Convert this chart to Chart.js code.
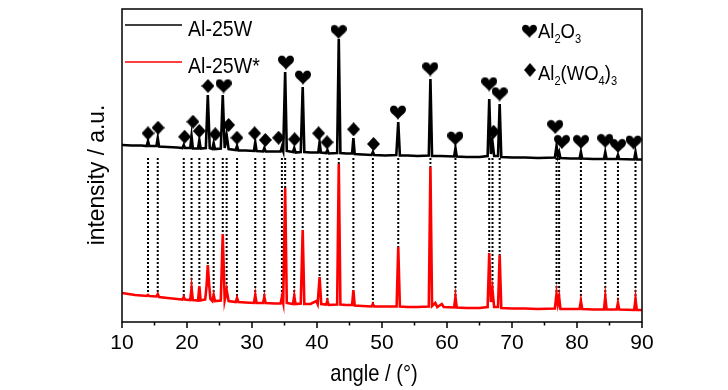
<!DOCTYPE html>
<html>
<head>
<meta charset="utf-8">
<script src="https://cdn.jsdelivr.net/npm/chart.js@4"></script>
<style>
  html, body { margin: 0; padding: 0; background: #fff; }
  #wrap { width: 728px; height: 390px; position: relative; }
</style>
</head>
<body>
<div id="wrap"><canvas id="xrd"></canvas></div>
<script>
const FONT = "'Liberation Sans', Arial, sans-serif";

const seriesNames = ['Al-25W', 'Al-25W*'];
const xTicks = [10, 20, 30, 40, 50, 60, 70, 80, 90];
const xMinorTicks = [15, 25, 35, 45, 55, 65, 75, 85];

// [angle, intensity]
const blackTrace = [
  [10,177],[11.5,176.5],[13,176.5],[13.8,176],[14.0,181],[14.2,176],[15.3,176],[15.5,184],[15.7,175.5],
  [17,175],[18.5,174.5],[19.3,174],[19.5,177],[19.7,174],[20.5,174],[20.7,186],[20.9,173.5],
  [21.7,173.5],[21.9,182],[22.1,173.5],[22.9,174],[23.2,227],[23.5,174],[23.9,173],[24.1,179],[24.3,173],
  [25.2,173.5],[25.5,227],[25.8,174],[26.1,187],[26.4,173],[27.5,172],[27.7,176],[27.9,171.5],
  [29,171.5],[30.3,171],[30.5,180],[30.7,171],[31.7,170.5],[31.9,174],[32.1,170.5],[33.5,170.5],
  [34.4,170.5],[34.6,175],[34.8,171],[35.1,250],[35.35,171],[36.3,170],[36.5,174],[36.7,169.5],
  [37.5,170],[37.8,235],[38.05,170],[39,169.5],[40.2,169.5],[40.4,180],[40.6,169.5],[41.4,169],
  [41.6,172],[41.8,168.5],[43.1,169],[43.35,283],[43.6,169],[44.5,168.5],[45.4,168.5],[45.6,184],
  [45.8,168],[47,167.5],[48.4,167],[48.6,170],[48.8,167],[50.5,166.5],[52.2,167],[52.5,200],
  [52.75,166.5],[54,166.5],[55.5,166],[57.2,166.5],[57.45,243],[57.7,166],[59,166],[61.1,165.5],
  [61.3,174],[61.5,165.5],[63,165],[65,165],[66.25,166],[66.5,223],[66.75,168],[67.0,180],[67.25,166],
  [67.85,166],[68.1,218],[68.35,165],[70,164.5],[72,164.5],[74,164],[76.6,164.5],[76.85,176],
  [77.05,166],[77.25,170],[77.45,164],[79,163.5],[80.4,163.5],[80.6,170],[80.8,163.5],[82.5,163],
  [84.15,163],[84.35,170],[84.55,163],[86.1,163],[86.3,167],[86.5,163],[88.8,162.5],[89.0,170],
  [89.2,162.5],[90,162.5]
];

const redTrace = [
  [10,29],[11,28],[12,27],[13,26.5],[13.8,26],[14.0,27],[14.2,26],[15.3,25.5],[15.5,28],[15.7,25],
  [17,24],[18.5,23],[19.3,22.5],[19.5,25],[19.7,22.5],[20.5,22],[20.7,34],[20.9,22],[21.7,21.5],
  [21.9,36],[22.1,21.5],[22.8,22.5],[23.0,35],[23.2,57],[23.4,38],[23.6,23],[23.9,21],[24.1,27],
  [24.3,21],[25.2,21.5],[25.5,88],[25.8,22],[26.1,32],[26.4,21],[27.5,20],[27.7,24],[27.9,20],
  [29,19.5],[30.3,19],[30.5,27],[30.7,19],[31.7,19],[31.9,25],[32.1,19],[33.5,18.5],[34.4,18.5],
  [34.6,25],[34.8,19],[35.1,134],[35.35,19],[36.3,18],[36.5,26],[36.7,18],[37.5,18.5],[37.8,92],
  [38.05,18],[39,18],[39.9,21],[40.1,18],[40.4,45],[40.65,18],[41.4,17.5],[41.6,21],[41.8,17],
  [43.1,17.5],[43.35,158],[43.6,17.5],[44.5,17],[45.4,17],[45.6,32],[45.8,16.5],[47,16],[48.4,15.5],
  [48.6,18],[48.8,15.5],[50.5,15.5],[52.25,15.5],[52.5,75],[52.75,15.5],[54,15],[55.5,15],[57.2,15.5],
  [57.45,155],[57.7,16],[58.2,19],[58.5,15],[59.2,18],[59.5,15],[61.1,14.5],[61.3,25],[61.5,14.5],
  [63,14],[65,14],[66.25,15],[66.5,69],[66.75,20],[67.0,32],[67.25,15],[67.85,15],[68.1,67],
  [68.35,14],[70,13.5],[72,13.5],[74,13],[76.6,13.5],[76.85,28],[77.05,18],[77.25,25],[77.45,13],
  [79,13],[80.4,13],[80.6,21],[80.8,13],[82.5,12.5],[84.15,12.5],[84.35,25],[84.55,12.5],[86.1,12.5],
  [86.3,19],[86.5,12.5],[88.8,12],[89.0,23],[89.2,12],[90,12]
];

// reflections marked with dotted drop lines
const peakAngles = [14.0, 15.5, 19.5, 20.7, 21.9, 23.2, 24.1, 25.5, 26.1, 27.7, 30.5, 31.9, 34.6, 35.1,
  36.5, 37.8, 40.4, 41.6, 43.35, 45.6, 48.6, 52.5, 57.45, 61.3, 66.5, 67.0, 68.1, 76.85, 77.25, 80.6,
  84.35, 86.3, 89.0];
const DROP_TOP = 164;

// marker positions [angle, intensity]
const al2o3Marks = [[25.63,236],[35.23,259.7],[37.85,244.7],[43.32,290.3],[52.46,209.7],[57.43,253],
  [61.28,183.7],[66.5,238],[68.09,228],[76.66,195.3],[77.69,180.3],[80.62,180.3],[84.35,181.3],
  [86.31,176.3],[88.71,179.7]];
const al2wo43Marks = [[14.0,188.7],[15.54,194.3],[19.63,185.3],[20.92,200.3],[21.89,191],[23.23,236],
  [24.35,187.7],[26.4,197],[27.69,184.3],[30.4,188.7],[32.05,182],[34.09,184.3],[36.55,182.7],
  [40.25,188.7],[41.54,179.7],[45.63,192.7],[48.7,178],[67.17,190.3]];

function makeHeart(w, h) {
  const c = document.createElement('canvas');
  c.width = w; c.height = h;
  const g = c.getContext('2d');
  g.fillStyle = '#000';
  g.beginPath();
  g.moveTo(w / 2, h * 0.26);
  g.bezierCurveTo(w * 0.4, -h * 0.04, 0, -h * 0.02, 0, h * 0.32);
  g.bezierCurveTo(0, h * 0.58, w * 0.36, h * 0.74, w / 2, h);
  g.bezierCurveTo(w * 0.64, h * 0.74, w, h * 0.58, w, h * 0.32);
  g.bezierCurveTo(w, -h * 0.02, w * 0.6, -h * 0.04, w / 2, h * 0.26);
  g.fill();
  return c;
}

function makeDiamond(w, h) {
  const c = document.createElement('canvas');
  c.width = w; c.height = h;
  const g = c.getContext('2d');
  g.fillStyle = '#000';
  g.beginPath();
  g.moveTo(w / 2, 0); g.lineTo(w, h / 2); g.lineTo(w / 2, h); g.lineTo(0, h / 2);
  g.closePath();
  g.fill();
  return c;
}

const heartImg = makeHeart(16, 15);
const diamondImg = makeDiamond(13, 14);

const toXY = arr => arr.map(([x, y]) => ({ x, y }));
const redAt = new Map(redTrace);
const drops = peakAngles.flatMap(a => [{ x: a, y: DROP_TOP }, { x: a, y: redAt.get(a) }, { x: a, y: null }]);

// the figure uses a narrow face, so squeeze text horizontally
function narrowText(ctx, text, x, y, size, squeeze) {
  ctx.save();
  ctx.translate(x, y);
  ctx.scale(squeeze, 1);
  ctx.font = `${size}px ${FONT}`;
  ctx.fillText(text, 0, 0);
  ctx.restore();
}

function drawRich(ctx, parts, x, y, size, squeeze) {
  parts.forEach(([t, sub]) => {
    const s = sub ? size * 0.6 : size;
    ctx.font = `${s}px ${FONT}`;
    narrowText(ctx, t, x, sub ? y + size * 0.24 : y, s, squeeze);
    x += ctx.measureText(t).width * squeeze;
  });
}

const decor = {
  id: 'decor',
  afterDraw(chart) {
    const { ctx, chartArea: a, scales: { x } } = chart;
    ctx.save();
    ctx.strokeStyle = '#000';
    ctx.lineWidth = 1.5;
    ctx.strokeRect(a.left, a.top, a.right - a.left, a.bottom - a.top);
    ctx.beginPath();
    xTicks.forEach(v => { const p = x.getPixelForValue(v); ctx.moveTo(p, a.bottom); ctx.lineTo(p, a.bottom + 6); });
    xMinorTicks.forEach(v => { const p = x.getPixelForValue(v); ctx.moveTo(p, a.bottom); ctx.lineTo(p, a.bottom + 3.5); });
    ctx.stroke();

    // series legend
    ctx.strokeStyle = '#000';
    ctx.beginPath(); ctx.moveTo(125, 25); ctx.lineTo(182, 25); ctx.stroke();
    ctx.strokeStyle = '#ff0000';
    ctx.beginPath(); ctx.moveTo(125, 62); ctx.lineTo(182, 62); ctx.stroke();
    ctx.fillStyle = '#000';
    ctx.textAlign = 'left';
    ctx.textBaseline = 'alphabetic';
    narrowText(ctx, seriesNames[0], 188, 36, 22, 0.89);
    narrowText(ctx, seriesNames[1], 188, 73, 22, 0.89);

    // phase legend
    ctx.drawImage(heartImg, 522, 24, 15, 14);
    ctx.drawImage(diamondImg, 524, 63, 12, 14);
    drawRich(ctx, [['Al'], ['2', 1], ['O'], ['3', 1]], 538, 38, 21, 0.88);
    drawRich(ctx, [['Al'], ['2', 1], ['(WO'], ['4', 1], [')'], ['3', 1]], 538, 80, 21, 0.88);

    // axis titles
    ctx.textAlign = 'center';
    narrowText(ctx, 'angle / (°)', 374, 381, 24, 0.84);
    ctx.translate(104, 175);
    ctx.rotate(-Math.PI / 2);
    narrowText(ctx, 'intensity / a.u.', 0, 0, 24, 0.95);
    ctx.restore();
  }
};

new Chart(document.getElementById('xrd'), {
  type: 'line',
  data: {
    datasets: [
      { label: 'Al2O3', data: toXY(al2o3Marks), showLine: false, pointStyle: heartImg, pointRadius: 5, pointHoverRadius: 5 },
      { label: 'Al2(WO4)3', data: toXY(al2wo43Marks), showLine: false, pointStyle: diamondImg, pointRadius: 5, pointHoverRadius: 5 },
      { label: seriesNames[0], data: toXY(blackTrace), borderColor: '#000', borderWidth: 2.6, pointRadius: 0, tension: 0 },
      { label: seriesNames[1], data: toXY(redTrace), borderColor: '#ff0000', borderWidth: 2.6, pointRadius: 0, tension: 0 },
      { label: 'drops', data: drops, borderColor: '#000', borderWidth: 2, borderDash: [2, 2], pointRadius: 0, spanGaps: false }
    ]
  },
  options: {
    responsive: true,
    maintainAspectRatio: false,
    animation: false,
    events: [],
    layout: { padding: { left: 122, right: 86, top: 9, bottom: 0 } },
    plugins: { legend: { display: false }, tooltip: { enabled: false } },
    scales: {
      x: {
        type: 'linear', min: 10, max: 90,
        afterBuildTicks: s => { s.ticks = xTicks.map(v => ({ value: v })); },
        afterFit: s => { s.height = 68; },
        grid: { display: false, drawTicks: false },
        border: { display: false },
        ticks: { color: '#000', padding: 9, font: { family: FONT, size: 21 }, maxRotation: 0 }
      },
      y: { display: false, min: 0, max: 313 }
    }
  },
  plugins: [decor]
});
</script>
</body>
</html>
